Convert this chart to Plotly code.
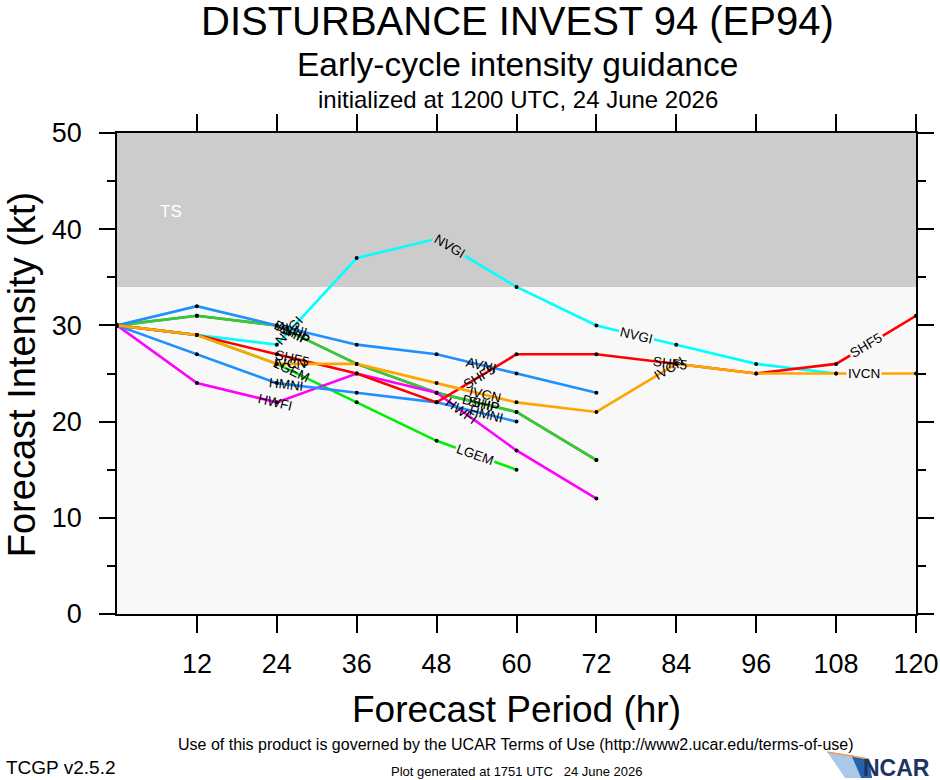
import math
import numpy as np
import plotly.graph_objects as go

# forecast hours and model intensities (kt)
hours = [0, 12, 24, 36, 48, 60, 72, 84, 96, 108, 120]
ship = [30, 31, 30, 26, 23, 21, 16]
dshp = [30, 31, 30, 26, 23, 21, 16]
lgem = [30, 29, 26, 22, 18, 15]
hwfi = [30, 24, 22, 25, 23, 17, 12]
hmni = [30, 27, 24, 23, 22, 20]
avni = [30, 32, 30, 28, 27, 25, 23]
nvgi = [30, 29, 28, 37, 39, 34, 30, 28, 26, 25]
shf5 = [30, 29, 27, 25, 22, 27, 27, 26, 25, 26, 31]
ivcn = [30, 29, 26, 26, 24, 22, 21, 26, 25, 25, 25]

# hours along each line where the model name is written
ship_lbl = [26.7, 55.1]
dshp_lbl = [26.3, 54.6]
lgem_lbl = [26.2, 53.7]
hwfi_lbl = [23.8, 51.8]
hmni_lbl = [25.4, 55.5]
avni_lbl = [26.3, 54.8]
nvgi_lbl = [25.9, 50.0, 78.0]
shf5_lbl = [26.4, 54.5, 83.2, 112.5]
ivcn_lbl = [26.0, 55.2, 82.9, 112.2]

ts_threshold = 34
x_ticks = [12, 24, 36, 48, 60, 72, 84, 96, 108, 120]
y_ticks = [0, 10, 20, 30, 40, 50]

models = [
    ("SHIP", ship, ship_lbl, "#6e6e6e"),
    ("DSHP", dshp, dshp_lbl, "#33cc33"),
    ("LGEM", lgem, lgem_lbl, "#00ee00"),
    ("HWFI", hwfi, hwfi_lbl, "#ff00ff"),
    ("HMNI", hmni, hmni_lbl, "#1e90ff"),
    ("AVNI", avni, avni_lbl, "#1e90ff"),
    ("NVGI", nvgi, nvgi_lbl, "#00ffff"),
    ("SHF5", shf5, shf5_lbl, "#ff0000"),
    ("IVCN", ivcn, ivcn_lbl, "#ffa500"),
]

# the page comes out squeezed sideways a little, so lay out a bit wider
SX = 951.0 / 940.0
W, H = int(round(940 * SX)), 780
ML, MR, MT, MB = 116 * SX, 23 * SX, 133, 166
pw = W - ML - MR
ph = H - MT - MB
px_hr = pw / 120.0 / SX
px_kt = ph / 50.0
FONT = "Liberation Sans, Arial, Helvetica, sans-serif"
PLOT_BG = "#f8f8f8"
TS_BG = "#cccccc"

fig = go.Figure()

# TS band
fig.add_shape(type="rect", xref="x", yref="y", x0=0, x1=120, y0=ts_threshold, y1=50,
              fillcolor=TS_BG, line=dict(width=0), layer="below")

labels = []
for name, vals, lbl, color in models:
    hrs = hours[:len(vals)]
    fig.add_trace(go.Scatter(x=hrs, y=vals, mode="lines+markers", name=name,
                             line=dict(color=color, width=2.6),
                             marker=dict(color="black", size=4),
                             showlegend=False, hoverinfo="skip"))
    for h in lbl:
        v = float(np.interp(h, hrs, vals))
        i = min(int(h // 12), len(vals) - 2)
        dv = vals[i + 1] - vals[i]
        ang = -math.degrees(math.atan2(dv * px_kt, 12 * px_hr))
        labels.append((name, h, v, ang))

# labels that sit alone get a gap in the line, crowded ones are just overprinted
pos = [(h * px_hr, v * px_kt) for _, h, v, _ in labels]
for k, (name, h, v, ang) in enumerate(labels):
    near = min(math.hypot(pos[k][0] - p[0], pos[k][1] - p[1])
               for j, p in enumerate(pos) if j != k)
    bg = None
    if near > 24:
        bg = TS_BG if v > ts_threshold else PLOT_BG
    fig.add_annotation(x=h, y=v, xref="x", yref="y", text=name, showarrow=False,
                       textangle=ang, font=dict(family=FONT, size=13.5, color="black"),
                       bgcolor=bg, borderpad=1)

fig.add_annotation(x=8.1, y=41.8, xref="x", yref="y", text="TS", showarrow=False,
                   font=dict(family=FONT, size=17, color="white"))


def py(ypx):
    return (H - MB - ypx) / ph


def pxx(xpx):
    return (xpx * SX - ML) / pw


texts = [
    ("DISTURBANCE INVEST 94 (EP94)", 517.5, 21, 40, "center"),
    ("Early-cycle intensity guidance", 518, 64, 33.5, "center"),
    ("initialized at 1200 UTC, 24 June 2026", 518, 99, 24, "center"),
    ("Forecast Period (hr)", 517, 709, 37, "center"),
    ("Use of this product is governed by the UCAR Terms of Use (http://www2.ucar.edu/terms-of-use)",
     516, 744, 16, "center"),
    ("Plot generated at 1751 UTC   24 June 2026", 517, 771, 13, "center"),
    ("TCGP v2.5.2", 3, 767, 19, "left"),
]
for t, xp, yp, size, anchor in texts:
    fig.add_annotation(x=pxx(xp), y=py(yp), xref="paper", yref="paper", text=t,
                       showarrow=False, xanchor=anchor, yanchor="middle",
                       font=dict(family=FONT, size=size, color="black"))

fig.add_annotation(x=pxx(21), y=py(375), xref="paper", yref="paper",
                   text="Forecast Intensity (kt)", showarrow=False, textangle=-90,
                   xanchor="center", yanchor="middle",
                   font=dict(family=FONT, size=38, color="black"))

# NCAR logo (text plus swoosh)
fig.add_shape(type="path", xref="paper", yref="paper",
              path="M %f,%f L %f,%f L %f,%f L %f,%f Z" % (
                  pxx(828), py(752), pxx(852), py(755), pxx(862), py(778), pxx(846), py(778)),
              fillcolor="#a9c8ea", line=dict(width=0))
fig.add_shape(type="path", xref="paper", yref="paper",
              path="M %f,%f L %f,%f L %f,%f L %f,%f Z" % (
                  pxx(852), py(755), pxx(870), py(760), pxx(873), py(778), pxx(862), py(778)),
              fillcolor="#2462ad", line=dict(width=0))
fig.add_shape(type="line", xref="paper", yref="paper",
              x0=pxx(828), y0=py(752), x1=pxx(870), y1=py(759),
              line=dict(color="#f0a050", width=1.5))
fig.add_annotation(x=pxx(933), y=py(768), xref="paper", yref="paper", text="<b>NCAR</b>",
                   showarrow=False, xanchor="right", yanchor="middle",
                   font=dict(family=FONT, size=23, color="#1d3461"))

fig.update_xaxes(range=[0, 120], tickvals=x_ticks, ticks="outside", ticklen=17, tickwidth=1.5,
                 tickcolor="black", showline=True, linecolor="black", linewidth=1.5,
                 mirror="ticks", showgrid=False, zeroline=False, ticklabelstandoff=8,
                 tickfont=dict(family=FONT, size=27, color="black"))
fig.update_yaxes(range=[0, 50], tickvals=y_ticks, ticks="outside", ticklen=16, tickwidth=1.5,
                 tickcolor="black", showline=True, linecolor="black", linewidth=1.5,
                 mirror="ticks", showgrid=False, zeroline=False, ticklabelstandoff=12,
                 minor=dict(dtick=5, ticks="outside", ticklen=8, tickwidth=1.5, tickcolor="black"),
                 tickfont=dict(family=FONT, size=27, color="black"))

fig.update_layout(width=W, height=H, autosize=False, margin=dict(l=ML, r=MR, t=MT, b=MB),
                  plot_bgcolor=PLOT_BG, paper_bgcolor="white", showlegend=False)

fig.write_html("out.html", config={"displayModeBar": False, "responsive": False},
               post_script="document.body.style.margin='0px';"
                           "document.body.style.overflow='hidden';"
                           "Plotly.relayout(document.getElementById('{plot_id}'),"
                           "{width: %d, height: %d});" % (W, H))
